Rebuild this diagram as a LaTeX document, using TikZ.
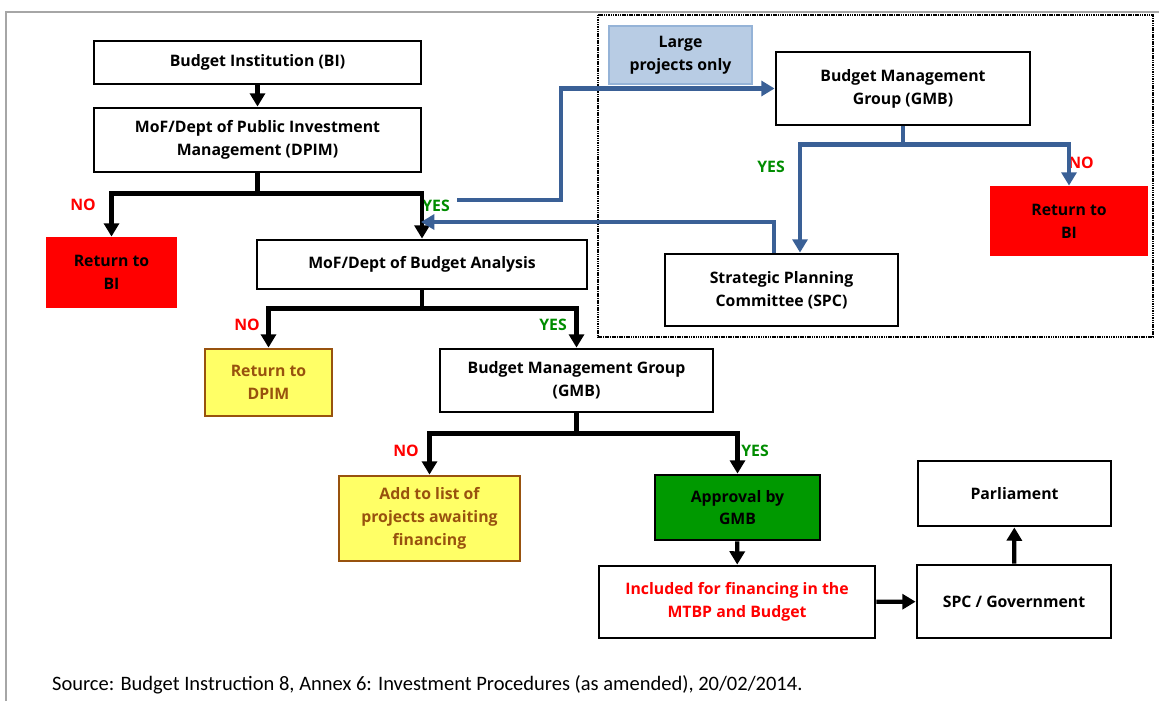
\documentclass[tikz,border=0pt]{standalone}
\usepackage{fontspec}
\setmainfont{Open Sans}
\newfontfamily\srcfont{Carlito}
\usetikzlibrary{arrows.meta}

\definecolor{flowblue}{RGB}{58,96,150}
\definecolor{yesgreen}{RGB}{0,140,0}
\definecolor{okgreen}{RGB}{0,153,0}
\definecolor{padyellow}{RGB}{255,255,102}
\definecolor{padbrown}{RGB}{152,82,14}
\definecolor{lightblue}{RGB}{184,204,228}
\definecolor{lightblueline}{RGB}{149,179,215}

\begin{document}
\begin{tikzpicture}
            [x=0.03cm,y=-0.03cm,
             box/.style={draw=black,line width=2.4pt,align=center,inner sep=2pt,
                         font=\fontsize{13.5}{19.5}\selectfont\bfseries},
             redbox/.style={box,draw=red,fill=red},
             yellowbox/.style={box,draw=padbrown,fill=padyellow,text=padbrown},
             conn/.style={line width=3.6pt,-{Triangle[width=0.45cm,length=0.4cm]}},
             bconn/.style={conn,draw=flowblue},
             no/.style={text=red,font=\fontsize{13.5}{16}\selectfont\bfseries},
             yes/.style={text=yesgreen,font=\fontsize{13.5}{16}\selectfont\bfseries}]
            \useasboundingbox (0,0) rectangle (1159,701);
            \draw[gray!70,line width=1.5pt] (6,701) -- (6,12) -- (1159,12);
            \draw[dash pattern=on 1pt off 0.5pt,line width=1.8pt] (598,15) rectangle (1153,337);

            \node[box,minimum width=9.81cm,minimum height=1.29cm] (bi) at (257.5,62.5) {Budget Institution (BI)};
            \node[box,minimum width=9.81cm,minimum height=1.92cm] (dpim) at (257.5,140) {MoF/Dept of Public Investment\\Management (DPIM)};
            \node[redbox,minimum width=3.87cm,minimum height=2.07cm] (ret1) at (111.5,272.5) {Return to\\BI};
            \node[box,minimum width=9.9cm,minimum height=1.47cm] (dba) at (422,264.5) {MoF/Dept of Budget Analysis};
            \node[yellowbox,minimum width=3.81cm,minimum height=2.01cm] (ret2) at (268.5,382.5) {Return to\\DPIM};
            \node[box,minimum width=8.19cm,minimum height=1.89cm] (gmb) at (576.5,380.5) {Budget Management Group\\(GMB)};
            \node[yellowbox,minimum width=5.43cm,minimum height=2.55cm] (wait) at (429.5,518.5) {Add to list of\\projects awaiting\\financing};
            \node[box,fill=okgreen,minimum width=4.95cm,minimum height=1.95cm] (appr) at (737.5,507.5) {Approval by\\GMB};
            \node[box,text=red,minimum width=8.28cm,minimum height=2.16cm] (incl) at (737,602) {Included for financing in the\\MTBP and Budget};
            \node[box,minimum width=5.82cm,minimum height=2.19cm] (gov) at (1014,601.5) {SPC / Government};
            \node[box,minimum width=5.79cm,minimum height=1.95cm] (parl) at (1014.5,493.5) {Parliament};

            \node[box,draw=lightblueline,fill=lightblue,minimum width=4.29cm,minimum height=1.74cm] (large) at (680.5,55) {Large\\projects only};
            \node[box,minimum width=7.62cm,minimum height=2.19cm] (gmb2) at (903,88.5) {Budget Management\\Group (GMB)};
            \node[redbox,minimum width=4.68cm,minimum height=2.04cm] (ret3) at (1069,221) {Return to\\BI};
            \node[box,minimum width=6.99cm,minimum height=2.16cm] (spc) at (781.5,290) {Strategic Planning\\Committee (SPC)};

            \node[no] (n1) at (83,205) {NO};
            \node[yes] (y1) at (436,206) {YES};
            \node[no] (n2) at (247,325) {NO};
            \node[yes] (y2) at (553,325) {YES};
            \node[no] (n3) at (406,451) {NO};
            \node[yes] (y3) at (755,451) {YES};
            \node[yes] (y4) at (771,167) {YES};
            \node[no] (n4) at (1081,163) {NO};

            \foreach \from/\to in {bi/dpim, appr/incl, incl/gov, gov/parl} \draw[conn] (\from) -- (\to);
            \draw[conn] (dpim.south) -- ++(0,20) -| (ret1.north);
            \draw[conn] (dpim.south) -- ++(0,20) -| (dba.north);
            \draw[conn] (dba.south) -- ++(0,18) -| (ret2.north);
            \draw[conn] (dba.south) -- ++(0,18) -| (gmb.north);
            \draw[conn] (gmb.south) -- ++(0,20) -| (wait.north);
            \draw[conn] (gmb.south) -- ++(0,20) -| (appr.north);

            \coordinate (large in) at (457,200);
            \coordinate (back) at (421,222);
            \draw[bconn] (large in) -- ++(104,0) |- (gmb2.west);
            \draw[bconn] (gmb2.south) -- ++(0,18) -| ([xshift=0.555cm]spc.north);
            \draw[bconn] (gmb2.south) -- ++(0,18) -| (ret3.north);
            \draw[bconn] ([xshift=-0.225cm]spc.north) |- (back);

            \node[anchor=base west,font=\srcfont\fontsize{17.5}{20}\selectfont] (src) at (48,690) {Source: Budget Instruction 8, Annex 6: Investment Procedures (as amended), 20/02/2014.};
        \end{tikzpicture}
\end{document}
